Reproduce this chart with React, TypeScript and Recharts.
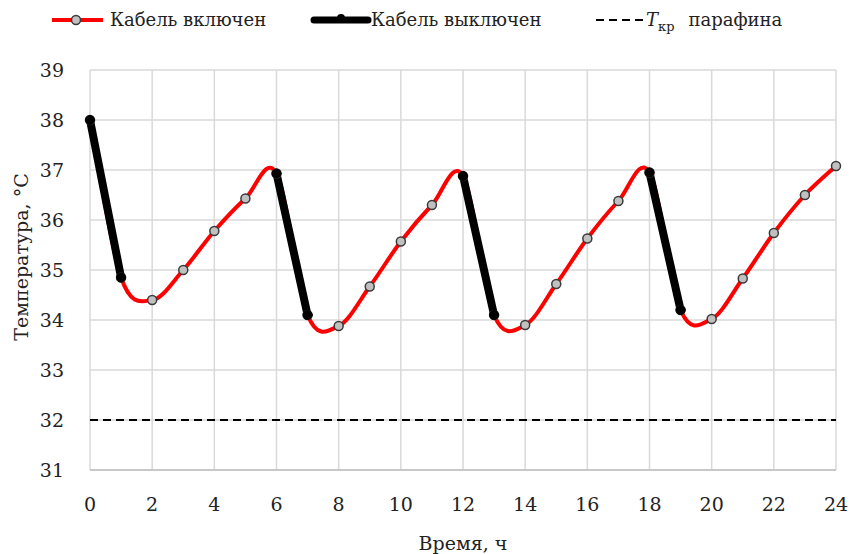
import React from "react"
import { LineChart, Line, XAxis, YAxis, CartesianGrid, ReferenceLine, Label } from "recharts"

// Время, ч
const hours = [0, 1, 2, 3, 4, 5, 6, 7, 8, 9, 10, 11, 12, 13, 14, 15, 16, 17, 18, 19, 20, 21, 22, 23, 24]
// Температура, °С
const temperature = [
    38.0, 34.85, 34.4, 35.0, 35.78, 36.43, 36.93, 34.1, 33.88, 34.67, 35.57, 36.3, 36.88,
    34.1, 33.9, 34.72, 35.63, 36.38, 36.95, 34.2, 34.02, 34.83, 35.74, 36.5, 37.08,
]
// часы, когда кабель выключен (концы участков)
const offHours = [0, 1, 6, 7, 12, 13, 18, 19]
const xTicks = [0, 2, 4, 6, 8, 10, 12, 14, 16, 18, 20, 22, 24]
const yTicks = [31, 32, 33, 34, 35, 36, 37, 38, 39]
const T_KR = 32

const data = hours.map((h, i) => ({
    hour: h,
    on: temperature[i],
    off: offHours.includes(h) ? temperature[i] : null,
}))

const FONT = "DejaVu Serif"
const FS = 19

// сглаживание как в Excel (Catmull-Rom через точки)
const smoothCurve = (ctx: any) => {
    let pts: number[][] = []
    return {
        areaStart() {},
        areaEnd() {},
        lineStart() {
            pts = []
        },
        point(x: number, y: number) {
            pts.push([+x, +y])
        },
        lineEnd() {
            if (!pts.length) return
            ctx.moveTo(pts[0][0], pts[0][1])
            for (let i = 0; i < pts.length - 1; i++) {
                const p0 = pts[i - 1] || pts[i]
                const p1 = pts[i]
                const p2 = pts[i + 1]
                const p3 = pts[i + 2] || p2
                ctx.bezierCurveTo(
                    p1[0] + (p2[0] - p0[0]) / 6,
                    p1[1] + (p2[1] - p0[1]) / 6,
                    p2[0] - (p3[0] - p1[0]) / 6,
                    p2[1] - (p3[1] - p1[1]) / 6,
                    p2[0],
                    p2[1]
                )
            }
        },
    }
}

function ChartLegend() {
    const text: React.CSSProperties = { position: "absolute", top: 8, fontSize: 18, fontFamily: FONT, color: "#222", whiteSpace: "nowrap", lineHeight: "24px" }
    return (
        <div style={{ position: "absolute", left: 0, top: 0, width: 853, height: 40 }}>
            <svg width={853} height={40} style={{ position: "absolute", left: 0, top: 0 }}>
                <line x1={52} x2={103} y1={20} y2={20} stroke="#ff0000" strokeWidth={4} />
                <circle cx={76} cy={20} r={4.5} fill="#c0c0c0" stroke="#3a3a3a" strokeWidth={1.5} />
                <line x1={314} x2={368} y1={20} y2={20} stroke="#000" strokeWidth={7} strokeLinecap="round" />
                <circle cx={341} cy={18} r={4} fill="#000" />
                <line x1={596} x2={644} y1={20} y2={20} stroke="#000" strokeWidth={2} strokeDasharray="8 5" />
            </svg>
            <span style={{ ...text, left: 110 }}>Кабель включен</span>
            <span style={{ ...text, left: 371 }}>Кабель выключен</span>
            <span style={{ ...text, left: 646 }}>
                <i>T</i>
                <sub style={{ fontSize: 13 }}>кр</sub>
                <span style={{ marginLeft: 14 }}>парафина</span>
            </span>
        </div>
    )
}

export default function App() {
    return (
        <div style={{ position: "absolute", left: 0, top: 0, width: 853, height: 554, background: "#fff" }}>
            <LineChart width={853} height={554} data={data} margin={{ top: 70, right: 17, bottom: 54, left: 30 }}>
                <CartesianGrid stroke="#d9d9d9" strokeWidth={1.5} />
                <XAxis
                    dataKey="hour"
                    type="number"
                    domain={[0, 24]}
                    ticks={xTicks}
                    interval={0}
                    height={30}
                    tickLine={false}
                    tickSize={0}
                    tickMargin={28}
                    axisLine={{ stroke: "#bfbfbf", strokeWidth: 1.5 }}
                    tick={{ fontSize: FS, fontFamily: FONT, fill: "#222" }}
                >
                    <Label
                        content={() => (
                            <text x={463} y={550} textAnchor="middle" fontSize={FS} fontFamily={FONT} fill="#222">
                                Время, ч
                            </text>
                        )}
                    />
                </XAxis>
                <YAxis
                    type="number"
                    domain={[31, 39]}
                    ticks={yTicks}
                    interval={0}
                    width={60}
                    tickLine={false}
                    tickSize={0}
                    tickMargin={26}
                    axisLine={false}
                    tick={{ fontSize: FS, fontFamily: FONT, fill: "#222" }}
                >
                    <Label
                        content={() => (
                            <text x={28} y={257} transform="rotate(-90 28 257)" textAnchor="middle" fontSize={FS} fontFamily={FONT} fill="#222">
                                Температура, °С
                            </text>
                        )}
                    />
                </YAxis>
                <ReferenceLine y={T_KR} stroke="#000" strokeWidth={2.2} strokeDasharray="8 5" />
                <Line
                    dataKey="on"
                    type={smoothCurve as any}
                    stroke="#ff0000"
                    strokeWidth={4}
                    dot={{ r: 4.5, fill: "#c0c0c0", stroke: "#3a3a3a", strokeWidth: 1.5 }}
                    activeDot={false}
                    isAnimationActive={false}
                />
                <Line
                    dataKey="off"
                    type="linear"
                    stroke="#000"
                    strokeWidth={8}
                    strokeLinecap="round"
                    dot={{ r: 4.5, fill: "#000", stroke: "#000", strokeWidth: 1 }}
                    activeDot={false}
                    isAnimationActive={false}
                />
            </LineChart>
            <ChartLegend />
        </div>
    )
}
